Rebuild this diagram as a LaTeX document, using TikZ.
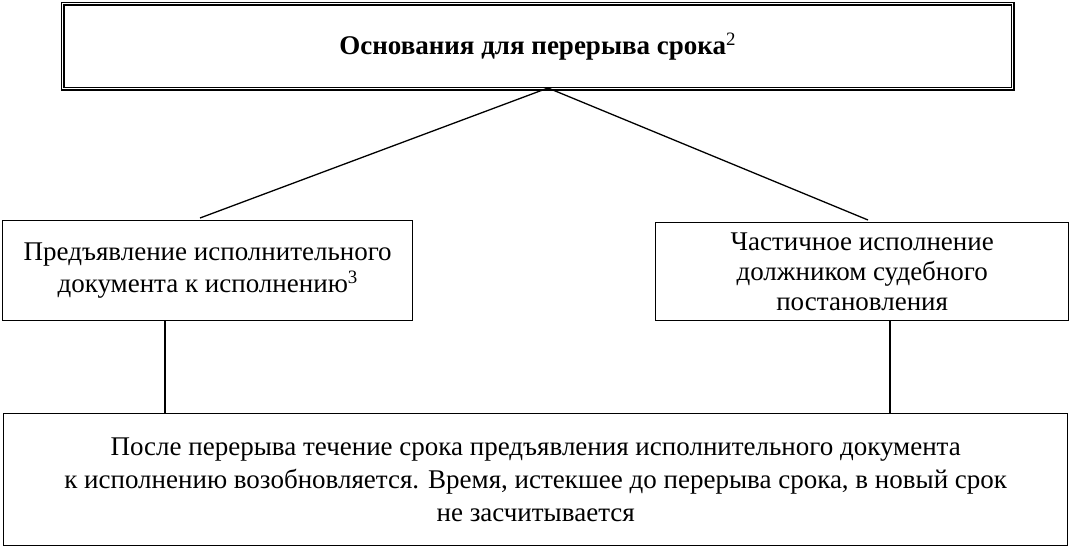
\documentclass[tikz,border=0pt]{standalone}
\usepackage{fontspec}
\setmainfont{Liberation Serif}
\begin{document}
\begin{tikzpicture}[x=1pt,y=-1pt,
  box/.style={draw,line width=1.4pt,inner sep=0pt,anchor=north west,align=center,font=\fontsize{27}{32}\selectfont},
  ln/.style={line width=1.3pt}]
\useasboundingbox (0,0) rectangle (1072,549);
\node[box,minimum width=950pt,minimum height=85pt,double,double distance=1.2pt,font=\bfseries\fontsize{27}{32}\selectfont] (top) at (62,3) {Основания для перерыва срока\textsuperscript{\normalfont 2}};
\node[box,minimum width=410pt,minimum height=100pt] (l) at (2,220) {Предъявление исполнительного\\документа к исполнению\textsuperscript{3}};
\node[box,minimum width=413pt,minimum height=98pt,font=\fontsize{27}{30}\selectfont] (r) at (655,222) {Частичное исполнение\\должником судебного\\постановления};
\node[box,minimum width=1064pt,minimum height=132pt,font=\fontsize{27}{33}\selectfont] (b) at (3,413) {После перерыва течение срока предъявления исполнительного документа\\к исполнению возобновляется. Время, истекшее до перерыва срока, в новый срок\\не засчитывается};
\coordinate (t) at (548,88);
\coordinate (le) at (200,218);
\coordinate (re) at (868,220);
\draw[ln] (t) -- (le);
\draw[ln] (t) -- (re);
\draw[ln] (l.south west -| 165,0) -- (b.north west -| 165,0);
\draw[ln] (r.south west -| 890,0) -- (b.north west -| 890,0);
\end{tikzpicture}
\end{document}
